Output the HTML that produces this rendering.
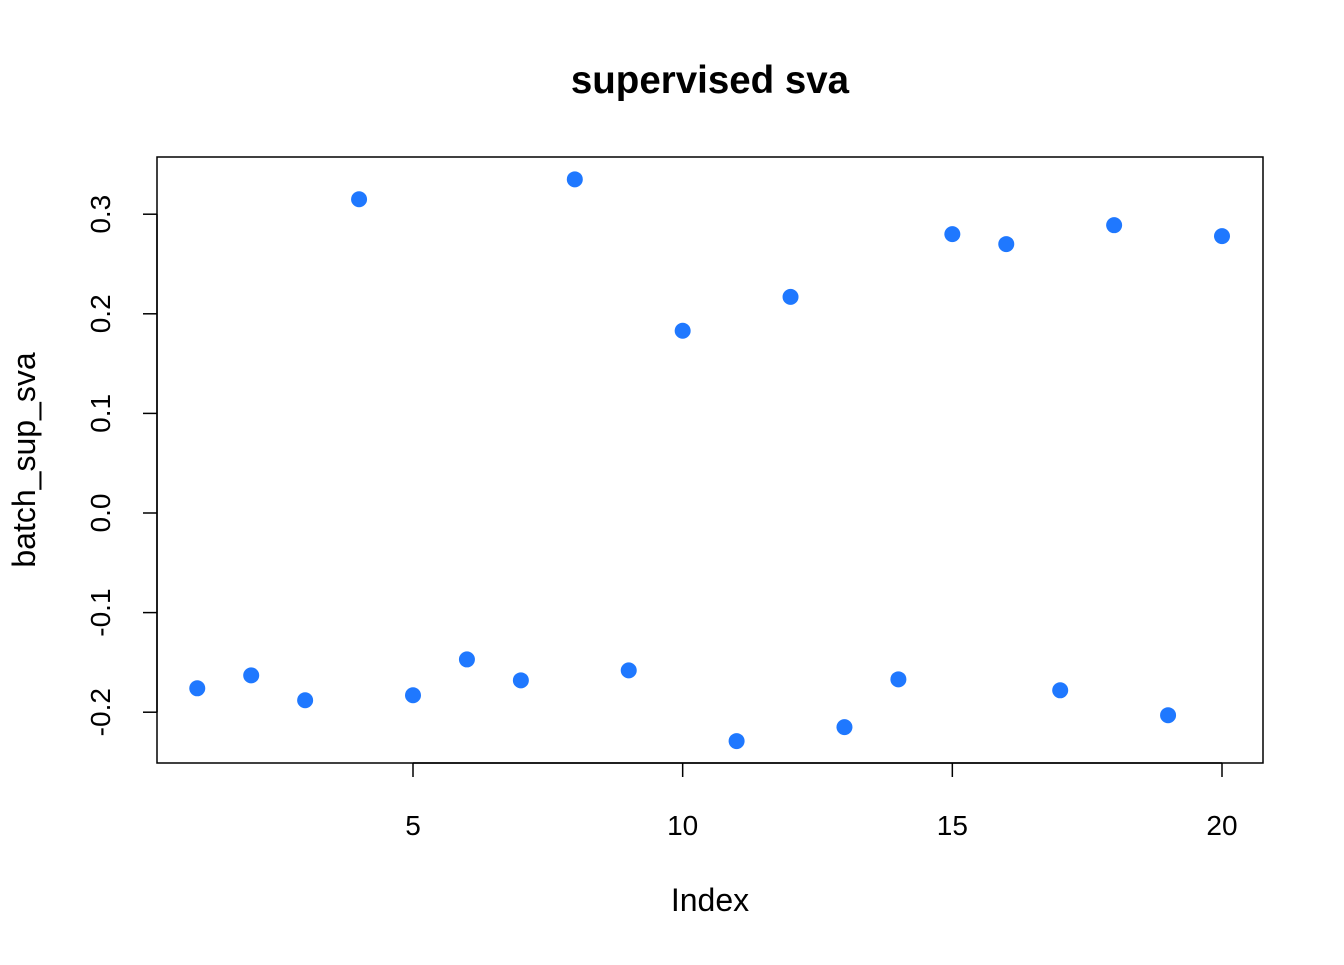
<!DOCTYPE html>
<html><head><meta charset="utf-8"><style>
html,body{margin:0;padding:0;background:#fff;}
svg text{font-family:"Liberation Sans",Arial,sans-serif;fill:#000;}
</style></head><body>
<svg id="chart" width="1344" height="960" xmlns="http://www.w3.org/2000/svg">
<text x="710" y="93" font-size="38.5" font-weight="bold" text-anchor="middle">supervised sva</text>
<rect x="157" y="157" width="1106" height="606" fill="none" stroke="#000" stroke-width="1.5"/>
<text x="710" y="911" font-size="32" text-anchor="middle">Index</text>
<text transform="translate(35,460) rotate(-90)" font-size="32" text-anchor="middle">batch_sup_sva</text>
<g id="xaxis"></g>
<g id="yaxis"></g>
<g id="points"></g>
</svg>
<script>
const indices = [1,2,3,4,5,6,7,8,9,10,11,12,13,14,15,16,17,18,19,20];
const values = [-0.176,-0.163,-0.188,0.315,-0.183,-0.147,-0.168,0.335,-0.158,0.183,-0.229,0.217,-0.215,-0.167,0.280,0.270,-0.178,0.289,-0.203,0.278];
const xTicks = [5,10,15,20];
const yTicks = [-0.2,-0.1,0.0,0.1,0.2,0.3];
const yTickLabels = ["-0.2","-0.1","0.0","0.1","0.2","0.3"];

const NS="http://www.w3.org/2000/svg";
function xs(v){return 413+(v-5)*(1222-413)/15;}
function ys(v){return 513-v*996;}
function mk(tag,attrs,parent){const e=document.createElementNS(NS,tag);for(const k in attrs)e.setAttribute(k,attrs[k]);parent.appendChild(e);return e;}

const xa=document.getElementById('xaxis');
mk('line',{x1:xs(xTicks[0]),x2:xs(xTicks[xTicks.length-1]),y1:763,y2:763,stroke:'#000','stroke-width':1.5},xa);
xTicks.forEach(t=>{
  const l=mk('line',{x1:xs(t),x2:xs(t),y1:763,y2:777,stroke:'#000','stroke-width':1.5},xa);
  
  
  const tx=mk('text',{x:xs(t),y:835,'font-size':28,'text-anchor':'middle'},xa);
  tx.textContent=t;
  
  
});
const ya=document.getElementById('yaxis');
mk('line',{x1:157,x2:157,y1:ys(yTicks[0]),y2:ys(yTicks[yTicks.length-1]),stroke:'#000','stroke-width':1.5},ya);
yTicks.forEach((t,i)=>{
  const l=mk('line',{x1:143,x2:157,y1:ys(t),y2:ys(t),stroke:'#000','stroke-width':1.5},ya);
  
  
  const tx=mk('text',{transform:`translate(110,${ys(t)}) rotate(-90)`,'font-size':28,'text-anchor':'middle'},ya);
  tx.textContent=yTickLabels[i];
  
  
});
const pg=document.getElementById('points');
indices.forEach((x,i)=>{
  const c=mk('circle',{cx:xs(x),cy:ys(values[i]),r:8,fill:'#1f78ff'},pg);
  
  
});
</script>
</body></html>
